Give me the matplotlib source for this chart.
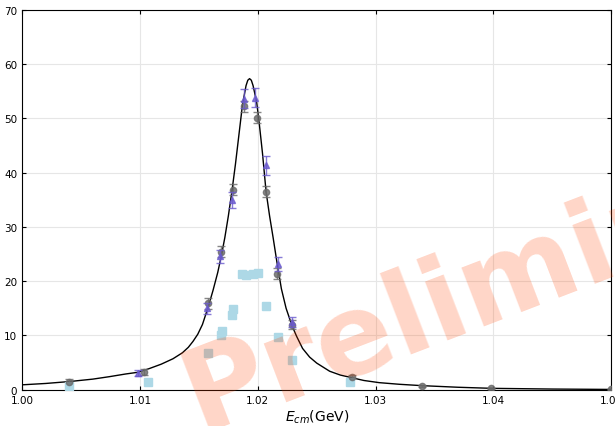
import matplotlib
matplotlib.use("Agg")
import matplotlib.pyplot as plt
import numpy as np

# gray circles (with errors)
x_gray = [1.0040, 1.0103, 1.0158, 1.0169, 1.0179, 1.0188, 1.0199, 1.0207, 1.0216, 1.0229, 1.0280, 1.0339, 1.0398, 1.0500]
y_gray = [1.5, 3.3, 15.9, 25.4, 36.8, 52.2, 50.1, 36.5, 21.4, 12.0, 2.4, 0.75, 0.3, 0.1]
e_gray = [0.5, 0.5, 1.0, 1.0, 1.0, 1.0, 1.0, 1.0, 1.0, 0.8, 0.3, 0.2, 0.1, 0.1]

# purple triangles (with errors)
x_tri = [1.0098, 1.0157, 1.0168, 1.0178, 1.0188, 1.0198, 1.0207, 1.0217, 1.0229]
y_tri = [3.1, 15.0, 24.6, 35.0, 53.6, 53.8, 41.3, 23.2, 12.4]
e_tri = [0.5, 1.0, 1.2, 1.5, 1.8, 1.8, 1.7, 1.3, 0.9]

# light blue squares
x_sq = [1.0040, 1.0107, 1.0158, 1.0169, 1.0170, 1.0178, 1.0179, 1.0187, 1.0190, 1.0196, 1.0200, 1.0207, 1.0217, 1.0229, 1.0278]
y_sq = [0.7, 1.5, 6.8, 10.0, 10.8, 13.7, 14.8, 21.3, 21.1, 21.3, 21.5, 15.5, 9.8, 5.4, 1.5]

# fitted line
x_fit = [1.0000, 1.0020, 1.0040, 1.0060, 1.0074, 1.0088, 1.0098, 1.0108, 1.0118, 1.0128,
         1.0136, 1.0141, 1.0145, 1.0149, 1.0153, 1.0158, 1.0162, 1.0166, 1.0169, 1.0172,
         1.0175, 1.0178, 1.0181, 1.0184, 1.0187, 1.0190, 1.01915, 1.0193, 1.01945, 1.0196,
         1.0199, 1.0201, 1.0204, 1.0207, 1.0210, 1.0213, 1.0216, 1.0220, 1.0224, 1.0229,
         1.0233, 1.0238, 1.0244, 1.0250, 1.0261, 1.0270, 1.0280, 1.0290, 1.0303, 1.0320,
         1.0339, 1.0370, 1.0399, 1.0450, 1.0500]
y_fit = [0.9, 1.15, 1.5, 1.95, 2.4, 2.9, 3.2, 3.9, 4.7, 5.7,
         6.8, 7.8, 8.9, 10.2, 12.0, 15.3, 18.3, 21.6, 24.6, 28.0,
         32.0, 36.5, 41.5, 47.0, 52.5, 56.0, 57.0, 57.3, 57.0, 56.0,
         53.0, 49.5, 43.5, 36.5, 32.0, 28.0, 23.8, 18.6, 15.0, 11.8,
         9.8, 7.6, 6.0, 4.9, 3.4, 2.7, 2.2, 1.7, 1.3, 1.0,
         0.75, 0.45, 0.25, 0.12, 0.05]

x_ticks = [1.00, 1.01, 1.02, 1.03, 1.04, 1.05]
y_ticks = [0, 10, 20, 30, 40, 50, 60, 70]

fig = plt.figure(figsize=(6.15, 4.27), dpi=100)
ax = fig.add_axes([0.036, 0.085, 0.958, 0.89])

ax.plot(x_fit, y_fit, color='black', lw=1.0, zorder=3)
ax.errorbar(x_gray, y_gray, yerr=e_gray, fmt='o', color='dimgray', ms=4.5, alpha=0.8,
            capsize=3, elinewidth=1, zorder=4)
ax.errorbar(x_tri, y_tri, yerr=e_tri, fmt='^', color='slateblue', ms=5, alpha=0.8,
            capsize=3, elinewidth=1, zorder=5)
ax.plot(x_sq, y_sq, 's', color='lightblue', ms=6, zorder=4)

ax.set_xlim(1.00, 1.05)
ax.set_ylim(0, 70)
ax.set_xticks(x_ticks)
ax.set_yticks(y_ticks)
ax.set_xticklabels(['1.00', '1.01', '1.02', '1.03', '1.04', '1.05'])
ax.tick_params(direction='in', labelsize=7.5, length=3, top=True, right=True)
ax.grid(True, color='#e6e6e6', lw=0.8)
ax.set_axisbelow(True)
ax.set_xlabel('$E_{cm}$(GeV)', fontsize=10, labelpad=2)

fig.text(0.325, -0.012, 'Preliminary', fontsize=82, fontweight='bold', color='orangered',
         alpha=0.22, rotation=21, rotation_mode='anchor', ha='left', va='baseline',
         zorder=10)

fig.savefig('out.png', dpi=100)
